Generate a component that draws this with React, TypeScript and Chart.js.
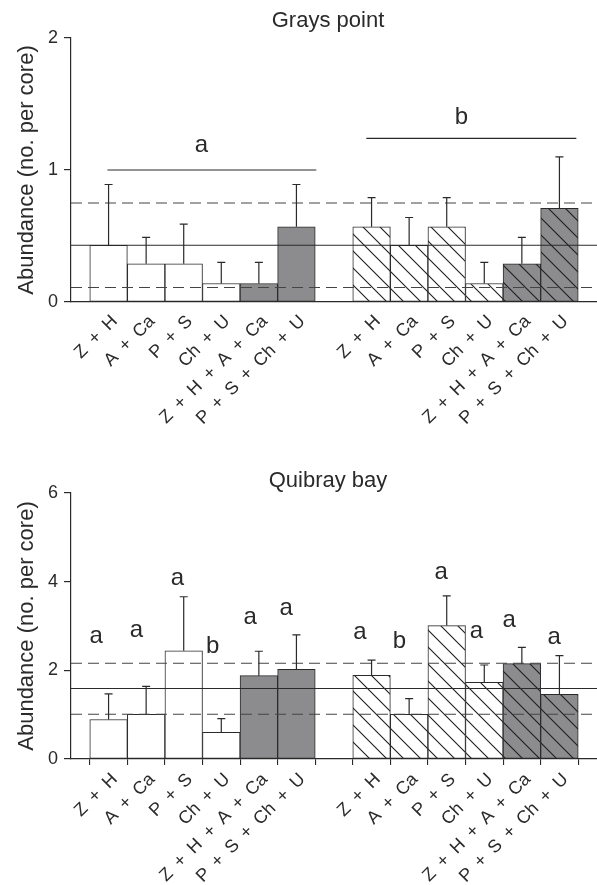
import React, { useEffect, useRef } from 'react';
import { Chart, registerables } from 'chart.js';

Chart.register(...registerables);

// ---------- data ----------
const treatments = [
  'Z\u2002+\u2002H',
  'A\u2002+\u2002Ca',
  'P\u2002+\u2002S',
  'Ch\u2002+\u2002U',
  'Z\u2002+\u2002H\u2002+\u2002A\u2002+\u2002Ca',
  'P\u2002+\u2002S\u2002+\u2002Ch\u2002+\u2002U',
];
const xTickValues = [0, 1, 2, 3, 4, 5, 6, 7, 8, 9, 10, 11, 12];
const xTickLabels = [...treatments, '', ...treatments];
const barPositions = [0, 1, 2, 3, 4, 5, 7, 8, 9, 10, 11, 12];
const barKinds = ['white', 'white', 'white', 'white', 'gray', 'gray', 'hatch', 'hatch', 'hatch', 'hatch', 'grayHatch', 'grayHatch'];

const graysMeans = [0.43, 0.29, 0.29, 0.14, 0.14, 0.57, 0.57, 0.43, 0.57, 0.14, 0.29, 0.71];
const graysSE = [0.46, 0.2, 0.3, 0.16, 0.16, 0.32, 0.22, 0.21, 0.22, 0.16, 0.2, 0.39];
const graysRefLines = [0.43, 0.75, 0.11]; // mean, upper, lower
const graysLetters = ['a', 'b'];
const graysLetterX = [2.47, 9.39];
const graysLetterY = [1.14, 1.35];
const graysBarLineX0 = [-0.03, 6.86];
const graysBarLineX1 = [5.53, 12.45];
const graysBarLineY = [1.0, 1.24];

const quibrayMeans = [0.89, 1.01, 2.44, 0.6, 1.88, 2.02, 1.89, 1.01, 3.01, 1.73, 2.15, 1.46];
const quibraySE = [0.58, 0.63, 1.22, 0.31, 0.55, 0.78, 0.34, 0.35, 0.67, 0.39, 0.37, 0.87];
const quibrayRefLines = [1.59, 2.16, 1.01];
const quibrayLetters = ['a', 'a', 'a', 'b', 'a', 'a', 'a', 'b', 'a', 'a', 'a', 'a'];
const quibrayLetterX = [-0.33, 0.74, 1.835, 2.77, 3.77, 4.73, 6.69, 7.74, 8.85, 9.79, 10.66, 11.86];
const quibrayLetterY = [2.61, 2.75, 3.92, 2.38, 3.04, 3.24, 2.71, 2.51, 4.05, 2.74, 2.97, 2.6];

// ---------- style ----------
const FONT = '"Liberation Sans", Arial, Helvetica, sans-serif';
const INK = '#2a2a2a';
const GRAY = '#8c8c8e';
const WIDTH = 597;

function makeHatch(bg: string): CanvasPattern {
  const s = 17;
  const c = document.createElement('canvas');
  c.width = s;
  c.height = s;
  const g = c.getContext('2d')!;
  g.fillStyle = bg;
  g.fillRect(0, 0, s, s);
  g.strokeStyle = '#1e1e1e';
  g.lineWidth = 1.1;
  g.beginPath();
  g.moveTo(-2, -2);
  g.lineTo(s + 2, s + 2);
  g.moveTo(-2, s - 2);
  g.lineTo(2, s + 2);
  g.moveTo(s - 2, -2);
  g.lineTo(s + 2, 2);
  g.stroke();
  return g.createPattern(c, 'repeat')!;
}

interface Panel {
  title: string;
  yMax: number;
  yStep: number;
  means: number[];
  se: number[];
  refLines: number[];
  letters: string[];
  letterX: number[];
  letterY: number[];
  barLineX0: number[];
  barLineX1: number[];
  barLineY: number[];
  xTickMarks: boolean;
  height: number;
  plotTop: number;
  plotBottom: number;
  titleBaseline: number;
}

function buildChart(canvas: HTMLCanvasElement, p: Panel): Chart {
  const fills = barKinds.map((k) =>
    k === 'white' ? '#ffffff' : k === 'gray' ? GRAY : k === 'hatch' ? makeHatch('#ffffff') : makeHatch(GRAY)
  );

  const decor = {
    id: 'decor',
    afterDatasetsDraw(chart: any) {
      const ctx: CanvasRenderingContext2D = chart.ctx;
      const xs = chart.scales.x;
      const ys = chart.scales.y;
      const area = chart.chartArea;
      ctx.save();
      // reference lines
      p.refLines.forEach((v, i) => {
        const y = ys.getPixelForValue(v);
        ctx.beginPath();
        ctx.strokeStyle = i === 0 ? INK : '#444';
        ctx.lineWidth = 1.1;
        ctx.setLineDash(i === 0 ? [] : [11, 6]);
        ctx.moveTo(area.left, y);
        ctx.lineTo(area.right, y);
        ctx.stroke();
      });
      ctx.setLineDash([]);
      // error bars
      ctx.strokeStyle = INK;
      ctx.lineWidth = 1.2;
      barPositions.forEach((pos, i) => {
        const x = xs.getPixelForValue(pos);
        const y0 = ys.getPixelForValue(p.means[i]);
        const y1 = ys.getPixelForValue(p.means[i] + p.se[i]);
        ctx.beginPath();
        ctx.moveTo(x, y0);
        ctx.lineTo(x, y1);
        ctx.moveTo(x - 4, y1);
        ctx.lineTo(x + 4, y1);
        ctx.stroke();
      });
      // group lines
      p.barLineY.forEach((v, i) => {
        const y = ys.getPixelForValue(v);
        ctx.beginPath();
        ctx.moveTo(xs.getPixelForValue(p.barLineX0[i]), y);
        ctx.lineTo(xs.getPixelForValue(p.barLineX1[i]), y);
        ctx.stroke();
      });
      // letters
      ctx.fillStyle = INK;
      ctx.font = `24px ${FONT}`;
      ctx.textAlign = 'center';
      ctx.textBaseline = 'alphabetic';
      p.letters.forEach((t, i) => {
        ctx.fillText(t, xs.getPixelForValue(p.letterX[i]), ys.getPixelForValue(p.letterY[i]));
      });
      ctx.restore();
    },
    afterDraw(chart: any) {
      const ctx: CanvasRenderingContext2D = chart.ctx;
      const area = chart.chartArea;
      ctx.save();
      ctx.fillStyle = INK;
      ctx.font = `22px ${FONT}`;
      ctx.textAlign = 'center';
      ctx.textBaseline = 'alphabetic';
      ctx.fillText(p.title, 328, p.titleBaseline);
      ctx.translate(33, (area.top + area.bottom) / 2);
      ctx.rotate(-Math.PI / 2);
      ctx.fillText('Abundance (no. per core)', 0, 0);
      ctx.restore();
    },
  };

  return new Chart(canvas, {
    type: 'bar',
    data: {
      datasets: [
        {
          data: barPositions.map((x, i) => ({ x, y: p.means[i] })),
          backgroundColor: fills as any,
          borderColor: INK,
          borderWidth: 1,
          borderSkipped: false,
          barPercentage: 1,
          categoryPercentage: 1,
        },
      ],
    },
    options: {
      responsive: false,
      animation: false,
      events: [],
      layout: { padding: { top: p.plotTop, left: 0, right: 0, bottom: 0 } },
      plugins: { legend: { display: false }, title: { display: false }, tooltip: { enabled: false } },
      scales: {
        x: {
          type: 'linear',
          offset: false,
          min: -1,
          max: 13,
          afterBuildTicks: (s: any) => {
            s.ticks = xTickValues.map((v) => ({ value: v }));
          },
          afterFit: (s: any) => {
            s.height = p.height - p.plotBottom;
          },
          grid: {
            display: true,
            drawOnChartArea: false,
            drawTicks: p.xTickMarks,
            tickLength: 6,
            color: INK,
            lineWidth: 1.1,
          },
          border: { display: true, color: INK, width: 1.2 },
          ticks: {
            autoSkip: false,
            maxRotation: 45,
            minRotation: 45,
            labelOffset: 6,
            padding: p.xTickMarks ? 4 : 9,
            color: INK,
            font: { family: FONT, size: 18 },
            callback: (v: any) => xTickLabels[xTickValues.indexOf(Number(v))] ?? '',
          },
        },
        y: {
          min: 0,
          max: p.yMax,
          afterFit: (s: any) => {
            s.width = 71;
          },
          grid: { display: true, drawOnChartArea: false, drawTicks: true, tickLength: 7, color: INK, lineWidth: 1.2 },
          border: { display: true, color: INK, width: 1.2 },
          ticks: { stepSize: p.yStep, padding: 6, color: INK, font: { family: FONT, size: 18 } },
        },
      },
    },
    plugins: [decor],
  } as any);
}

const topPanel: Panel = {
  title: 'Grays point',
  yMax: 2,
  yStep: 1,
  means: graysMeans,
  se: graysSE,
  refLines: graysRefLines,
  letters: graysLetters,
  letterX: graysLetterX,
  letterY: graysLetterY,
  barLineX0: graysBarLineX0,
  barLineX1: graysBarLineX1,
  barLineY: graysBarLineY,
  xTickMarks: false,
  height: 440,
  plotTop: 38,
  plotBottom: 302,
  titleBaseline: 27,
};

const bottomPanel: Panel = {
  title: 'Quibray bay',
  yMax: 6,
  yStep: 2,
  means: quibrayMeans,
  se: quibraySE,
  refLines: quibrayRefLines,
  letters: quibrayLetters,
  letterX: quibrayLetterX,
  letterY: quibrayLetterY,
  barLineX0: [],
  barLineX1: [],
  barLineY: [],
  xTickMarks: true,
  height: 445,
  plotTop: 53,
  plotBottom: 319,
  titleBaseline: 47,
};

function PanelChart({ panel, top }: { panel: Panel; top: number }) {
  const ref = useRef<HTMLCanvasElement>(null);
  useEffect(() => {
    if (!ref.current) return;
    const chart = buildChart(ref.current, panel);
    return () => chart.destroy();
  }, [panel]);
  return (
    <canvas
      ref={ref}
      width={WIDTH}
      height={panel.height}
      style={{ position: 'absolute', left: 0, top, width: WIDTH, height: panel.height }}
    />
  );
}

export default function App() {
  return (
    <div style={{ position: 'absolute', left: 0, top: 0, width: WIDTH, height: 885, background: '#fff' }}>
      <PanelChart panel={topPanel} top={0} />
      <PanelChart panel={bottomPanel} top={440} />
    </div>
  );
}
